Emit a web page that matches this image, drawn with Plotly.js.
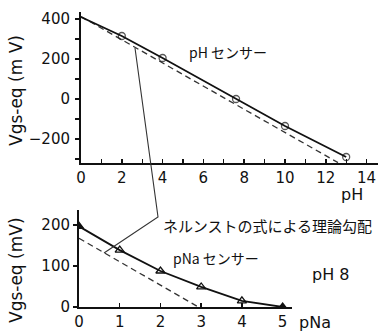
<!DOCTYPE html>
<html><head><meta charset="utf-8">
<script src="https://cdn.plot.ly/plotly-3.0.1.min.js"></script>
<style>html,body{margin:0;padding:0;background:#fff;}#chart{width:379px;height:334px;}</style>
</head><body><div id="chart"></div>
<script>
// ---- data ----
const pH = [0, 2, 4, 7.6, 10, 13];
const vgsPH = [410, 315, 205, 0, -135, -290];
const pHMarkerSize = [0, 7, 7, 7, 7, 7];
const nernstPHx = [0, 12.6];
const nernstPHy = [412, -318];

const pNa = [0, 1, 2, 3, 4, 5];
const vgsNa = [197, 139, 88, 49, 15, 0];
const pNaSymbols = ['triangle-up', 'triangle-up-open', 'triangle-up-open', 'triangle-up-open', 'triangle-up-open', 'triangle-up'];
const nernstNax = [0, 2.93];
const nernstNay = [168, 0];

const pHTicks = [0, 2, 4, 6, 8, 10, 12, 14];
const vTicksTop = [-200, 0, 200, 400];
const pNaTicks = [0, 1, 2, 3, 4, 5];
const vTicksBottom = [0, 100, 200];

// ---- layout helpers ----
const W = 379, H = 334;
const px = v => v / W;
const py = v => 1 - v / H;
const tickFont = {family: 'DejaVu Sans', size: 15, color: '#111'};
const jp = {family: 'Noto Sans CJK JP', size: 14, color: '#111'};

const traces = [
  {x: nernstPHx, y: nernstPHy, xaxis: 'x', yaxis: 'y', mode: 'lines',
   line: {color: '#333', width: 1.3, dash: '6px,4px'}, hoverinfo: 'skip'},
  {x: pH, y: vgsPH, xaxis: 'x', yaxis: 'y', mode: 'lines+markers',
   line: {color: '#111', width: 1.8},
   marker: {symbol: 'circle-open', size: pHMarkerSize, color: '#111', line: {width: 1.3, color: '#111'}}},
  {x: nernstNax, y: nernstNay, xaxis: 'x2', yaxis: 'y2', mode: 'lines',
   line: {color: '#333', width: 1.3, dash: '6px,4px'}, hoverinfo: 'skip'},
  {x: pNa, y: vgsNa, xaxis: 'x2', yaxis: 'y2', mode: 'lines+markers',
   line: {color: '#111', width: 1.8},
   marker: {symbol: pNaSymbols, size: 8, color: '#111', line: {width: 1.3, color: '#111'}}}
];

const axBase = {showline: true, linewidth: 2, linecolor: '#111', showgrid: false, zeroline: false,
  tickcolor: '#111', tickwidth: 1.5, ticklen: 4, tickfont: tickFont, tickmode: 'array', fixedrange: true};

const leader = [[135, 48], [158, 217], [104, 253]];
const leaderPath = 'M ' + leader.map(p => px(p[0]) + ',' + py(p[1])).join(' L ');

const layout = {
  width: W, height: H, margin: {l: 0, r: 0, t: 0, b: 0},
  paper_bgcolor: '#fff', plot_bgcolor: 'rgba(0,0,0,0)', showlegend: false,
  xaxis: Object.assign({}, axBase, {domain: [px(81), px(378)], range: [0, 14.56], anchor: 'y',
    ticks: 'inside', tickvals: pHTicks, ticklabelstandoff: 0,
    minor: {tickmode: 'linear', tick0: 0, dtick: 1, ticks: 'inside', ticklen: 4, tickwidth: 1.2, tickcolor: '#111'}}),
  yaxis: Object.assign({}, axBase, {domain: [py(163), py(12)], range: [-320, 435], anchor: 'x',
    ticks: 'outside', tickvals: vTicksTop, ticklabelstandoff: 2,
    minor: {tickmode: 'linear', tick0: 0, dtick: 100, ticks: 'outside', ticklen: 4, tickwidth: 1.2, tickcolor: '#111'}}),
  xaxis2: Object.assign({}, axBase, {domain: [px(79), px(292)], range: [0, 5.23], anchor: 'y2',
    ticks: 'inside', tickvals: pNaTicks, ticklabelstandoff: 0}),
  yaxis2: Object.assign({}, axBase, {domain: [py(307), py(210)], range: [0, 237], anchor: 'x2',
    ticks: 'outside', tickvals: vTicksBottom, ticklabelstandoff: 0}),
  shapes: [{type: 'path', xref: 'paper', yref: 'paper', path: leaderPath,
    line: {color: '#333', width: 1.1}}],
  annotations: [
    {text: 'pH センサー', x: px(228), y: py(52), font: jp},
    {text: 'ネルンストの式による理論勾配', x: px(267), y: py(225), font: Object.assign({}, jp, {size: 15})},
    {text: 'pNa センサー', x: px(216), y: py(258), font: jp},
    {text: 'pH 8', x: px(330), y: py(274), font: {family: 'DejaVu Sans', size: 16, color: '#111'}},
    {text: 'pH', x: px(352), y: py(194), font: {family: 'DejaVu Sans', size: 16, color: '#111'}},
    {text: 'pNa', x: px(315), y: py(322), font: {family: 'DejaVu Sans', size: 16, color: '#111'}},
    {text: 'Vgs-eq (m V)', x: px(16), y: py(91), textangle: -90, font: {family: 'DejaVu Sans', size: 17, color: '#111'}},
    {text: 'Vgs-eq (mV)', x: px(16), y: py(270), textangle: -90, font: {family: 'DejaVu Sans', size: 17, color: '#111'}}
  ].map(a => Object.assign({xref: 'paper', yref: 'paper', showarrow: false, xanchor: 'center', yanchor: 'middle'}, a))
};

Plotly.newPlot('chart', traces, layout, {displayModeBar: false, staticPlot: true});
</script>
</body></html>
